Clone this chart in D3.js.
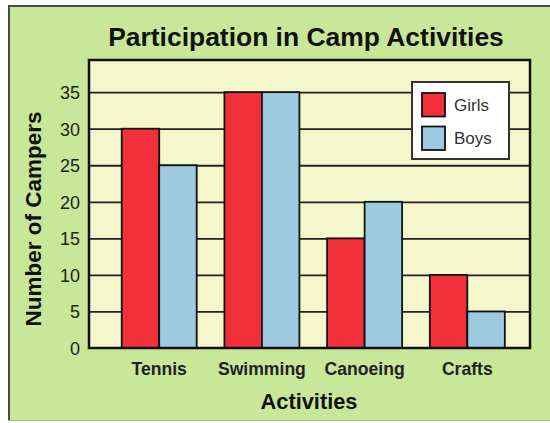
<!DOCTYPE html>
<html><head><meta charset="utf-8">
<script src="https://cdn.jsdelivr.net/npm/d3@7"></script>
<style>html,body{margin:0;padding:0;background:#fff;}svg{display:block;}</style>
</head><body>
<svg id="c" width="550" height="423"></svg>
<script>
const categories = ["Tennis", "Swimming", "Canoeing", "Crafts"];
const girls = [30, 35, 15, 10];
const boys = [25, 35, 20, 5];
const seriesNames = ["Girls", "Boys"];
const yTicks = [0, 5, 10, 15, 20, 25, 30, 35];
const colors = ["#f2303a", "#9dcae1"];

const svg = d3.select("#c");
const font = "'Liberation Sans', Arial, Helvetica, sans-serif";

// scale a text's font size so its rendered width matches a target width
function fitSize(str, weight, target) {
  const t = svg.append("text").attr("font-family", font).attr("font-size", 20)
    .attr("font-weight", weight).text(str);
  const w = t.node().getComputedTextLength();
  t.remove();
  return 20 * target / w;
}

// outer panel
svg.append("rect").attr("x", 9).attr("y", 6).attr("width", 545).attr("height", 414).attr("fill", "#c9e798");
svg.append("line").attr("x1", 9).attr("x2", 9).attr("y1", 5).attr("y2", 421).attr("stroke", "#4a4a4a").attr("stroke-width", 2);
svg.append("line").attr("x1", 8).attr("x2", 550).attr("y1", 6).attr("y2", 6).attr("stroke", "#4a4a4a").attr("stroke-width", 2);
svg.append("line").attr("x1", 8).attr("x2", 550).attr("y1", 420.5).attr("y2", 420.5).attr("stroke", "#a9b990").attr("stroke-width", 1);

const L = 89, R = 530, T = 60, B = 348;
const x = d3.scaleBand().domain(categories).range([L, R]).paddingInner(0.27).paddingOuter(0.282).align(0.565);
const y = d3.scaleLinear().domain([0, 39.4]).range([B, T]);
const xs = d3.scaleBand().domain(seriesNames).range([0, x.bandwidth()]);

svg.append("rect").attr("x", L).attr("y", T).attr("width", R - L).attr("height", B - T).attr("fill", "#f4f7cc");

// gridlines
const grid = d3.axisLeft(y).tickValues(yTicks.filter(d => d > 0)).tickSize(-(R - L)).tickFormat("");
svg.append("g").attr("transform", `translate(${L},0)`).call(grid)
  .call(g => g.select(".domain").remove())
  .call(g => g.selectAll("line").attr("stroke", "#222").attr("stroke-width", 1.8));

// bars
const data = categories.map((c, i) => ({c, vals: [girls[i], boys[i]]}));
const grp = svg.append("g").selectAll("g").data(data).join("g").attr("transform", d => `translate(${x(d.c)},0)`);
grp.selectAll("rect").data(d => d.vals.map((v, j) => ({v, s: seriesNames[j], j}))).join("rect")
  .attr("x", d => xs(d.s)).attr("width", xs.bandwidth())
  .attr("y", d => y(d.v)).attr("height", d => y(0) - y(d.v))
  .attr("fill", d => colors[d.j]).attr("stroke", "#111").attr("stroke-width", 1.8);

// plot border
svg.append("rect").attr("x", L).attr("y", T).attr("width", R - L).attr("height", B - T)
  .attr("fill", "none").attr("stroke", "#111").attr("stroke-width", 2.5);

// y axis labels
const yFs = fitSize("35", "normal", 20);
const ya = d3.axisLeft(y).tickValues(yTicks).tickSize(0).tickPadding(9);
svg.append("g").attr("transform", `translate(${L},0)`).call(ya)
  .call(g => g.select(".domain").remove())
  .call(g => g.selectAll("text").attr("font-family", font).attr("font-size", yFs).attr("fill", "#222").attr("dy", "0.36em"));

// x axis labels
const xFs = fitSize("Swimming", "bold", 88);
const xa = d3.axisBottom(x).tickSize(0).tickPadding(0);
svg.append("g").attr("transform", `translate(0,${B})`).call(xa)
  .call(g => g.select(".domain").remove())
  .call(g => g.selectAll("text").attr("font-family", font).attr("font-size", xFs).attr("font-weight", "bold")
    .attr("fill", "#222").attr("y", 27).attr("dy", null));

// titles
svg.append("text").attr("x", 306).attr("y", 46).attr("text-anchor", "middle")
  .attr("font-family", font).attr("font-size", fitSize("Participation in Camp Activities", "bold", 396))
  .attr("font-weight", "bold").attr("fill", "#111")
  .text("Participation in Camp Activities");
svg.append("text").attr("x", 309).attr("y", 409).attr("text-anchor", "middle")
  .attr("font-family", font).attr("font-size", fitSize("Activities", "bold", 97)).attr("font-weight", "bold").attr("fill", "#111")
  .text("Activities");
svg.append("text").attr("transform", "translate(41,219) rotate(-90)").attr("text-anchor", "middle")
  .attr("font-family", font).attr("font-size", fitSize("Number of Campers", "bold", 215)).attr("font-weight", "bold").attr("fill", "#111")
  .text("Number of Campers");

// legend
const lFs = fitSize("Girls", "normal", 35);
const lg = svg.append("g");
lg.append("rect").attr("x", 412).attr("y", 82).attr("width", 97).attr("height", 77)
  .attr("fill", "#fff").attr("stroke", "#333").attr("stroke-width", 2);
seriesNames.forEach((s, i) => {
  lg.append("rect").attr("x", 422).attr("y", 93 + i * 33.5).attr("width", 23).attr("height", 23.5)
    .attr("fill", colors[i]).attr("stroke", "#111").attr("stroke-width", 1.8);
  lg.append("text").attr("x", 454).attr("y", 110.5 + i * 33.5)
    .attr("font-family", font).attr("font-size", lFs).attr("fill", "#333").text(s);
});
</script>
</body></html>
